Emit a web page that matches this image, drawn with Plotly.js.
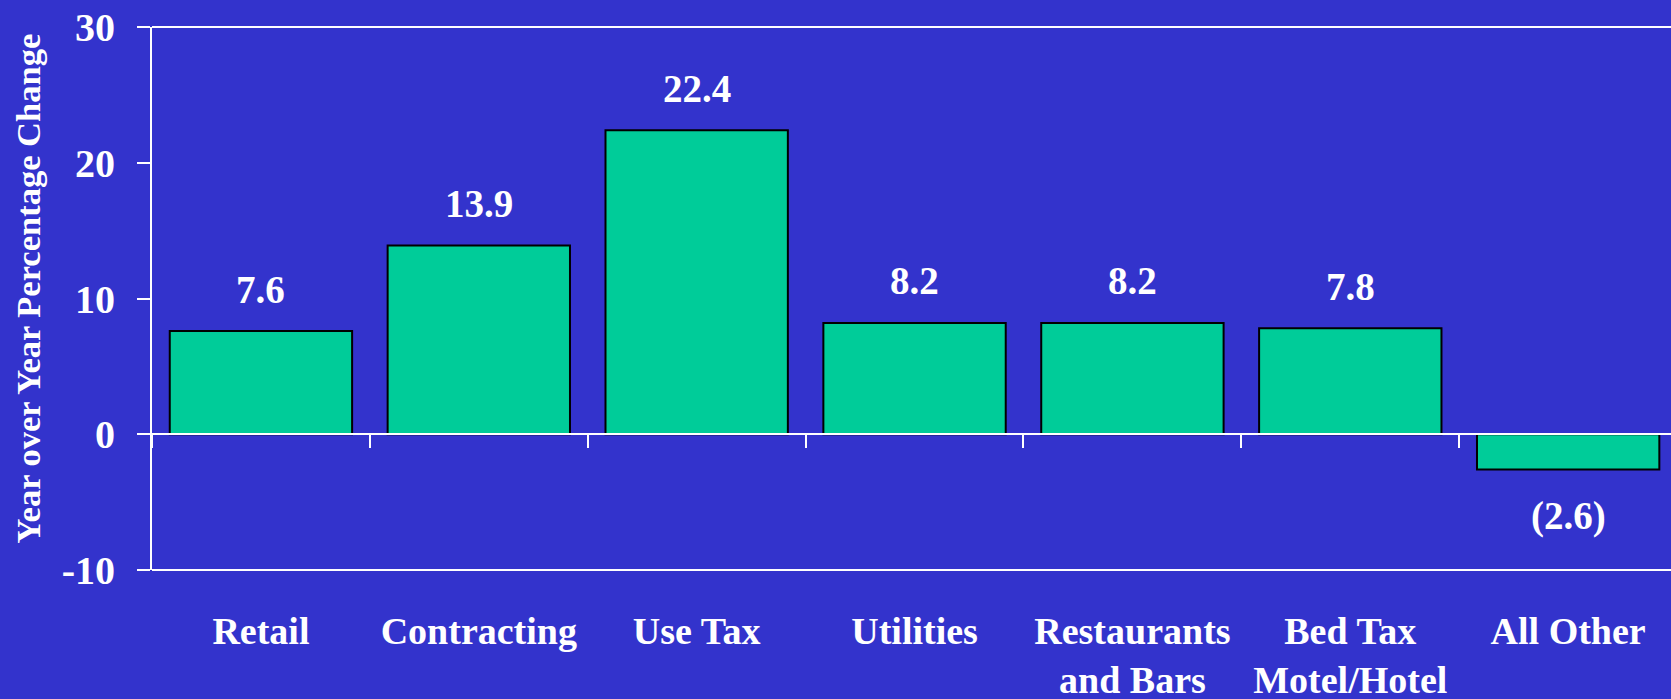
<!DOCTYPE html>
<html>
<head>
<meta charset="utf-8">
<script src="https://cdn.plot.ly/plotly-3.0.1.min.js"></script>
<style>
  html, body { margin: 0; padding: 0; background: #3333CC; overflow: hidden; }
  #chart { width: 1671px; height: 699px; }
</style>
</head>
<body>
<div id="chart"></div>
<script>
// ---- data ----
const categories = ["Retail", "Contracting", "Use Tax", "Utilities", "Restaurants<br>and Bars", "Bed Tax<br>Motel/Hotel", "All Other"];
const values = [7.6, 13.9, 22.4, 8.2, 8.2, 7.8, -2.6];
const yTickVals = [-10, 0, 10, 20, 30];
const yTickText = ["-10", "0", "10", "20", "30"];
const yTitle = "Year over Year Percentage Change";

// ---- style ----
const BG = "#3333CC";
const BAR = "#00CC99";
const WHITE = "#FFFFFF";
const FONT = "Liberation Serif, Times New Roman, serif";

function fmt(v) {
  return v < 0 ? "(" + Math.abs(v).toFixed(1) + ")" : v.toFixed(1);
}

const trace = {
  type: "bar",
  x: categories,
  y: values,
  marker: { color: BAR, line: { color: "#000000", width: 2 } },
  hoverinfo: "skip"
};

const annotations = categories.map((c, i) => ({
  x: c,
  y: values[i],
  xref: "x",
  yref: "y",
  text: "<b>" + fmt(values[i]) + "</b>",
  showarrow: false,
  yanchor: "middle",
  yshift: values[i] >= 0 ? 42 : -46,
  font: { family: FONT, size: 39, color: WHITE }
}));

annotations.push({
  x: 0,
  xref: "paper",
  xshift: -125,
  y: 0.5,
  yref: "paper",
  yshift: 10,
  textangle: -90,
  text: "<b>" + yTitle + "</b>",
  showarrow: false,
  xanchor: "center",
  yanchor: "middle",
  font: { family: FONT, size: 34.5, color: WHITE }
});

const layout = {
  width: 1671,
  height: 699,
  margin: { l: 152, r: 0, t: 27, b: 129 },
  paper_bgcolor: BG,
  plot_bgcolor: BG,
  showlegend: false,
  bargap: 0.163,
  font: { family: FONT, color: WHITE },
  xaxis: {
    type: "category",
    range: [-0.5, 6.472],
    anchor: "free",
    position: 0.25,
    showline: true,
    linecolor: WHITE,
    linewidth: 2,
    ticks: "outside",
    tickson: "boundaries",
    ticklen: 13,
    tickwidth: 2,
    tickcolor: WHITE,
    showgrid: false,
    zeroline: false,
    ticklabelstandoff: 163,
    tickfont: { family: FONT, size: 38, color: WHITE, weight: "bold" },
    fixedrange: true
  },
  yaxis: {
    range: [-10, 30],
    tickmode: "array",
    tickvals: yTickVals,
    ticktext: yTickText,
    showline: true,
    linecolor: WHITE,
    linewidth: 2,
    ticks: "outside",
    ticklen: 13,
    tickwidth: 2,
    tickcolor: WHITE,
    showgrid: false,
    zeroline: false,
    ticklabelstandoff: 14,
    tickfont: { family: FONT, size: 40, color: WHITE, weight: "bold" },
    fixedrange: true
  },
  shapes: [
    { type: "line", xref: "paper", yref: "paper", x0: 0, x1: 1, y0: 1, y1: 1, line: { color: WHITE, width: 2 }, layer: "above" },
    { type: "line", xref: "paper", yref: "paper", x0: 0, x1: 1, y0: 0, y1: 0, line: { color: WHITE, width: 2 }, layer: "above" }
  ],
  annotations: annotations
};

Plotly.newPlot("chart", [trace], layout, { displayModeBar: false, staticPlot: true });
</script>
</body>
</html>
